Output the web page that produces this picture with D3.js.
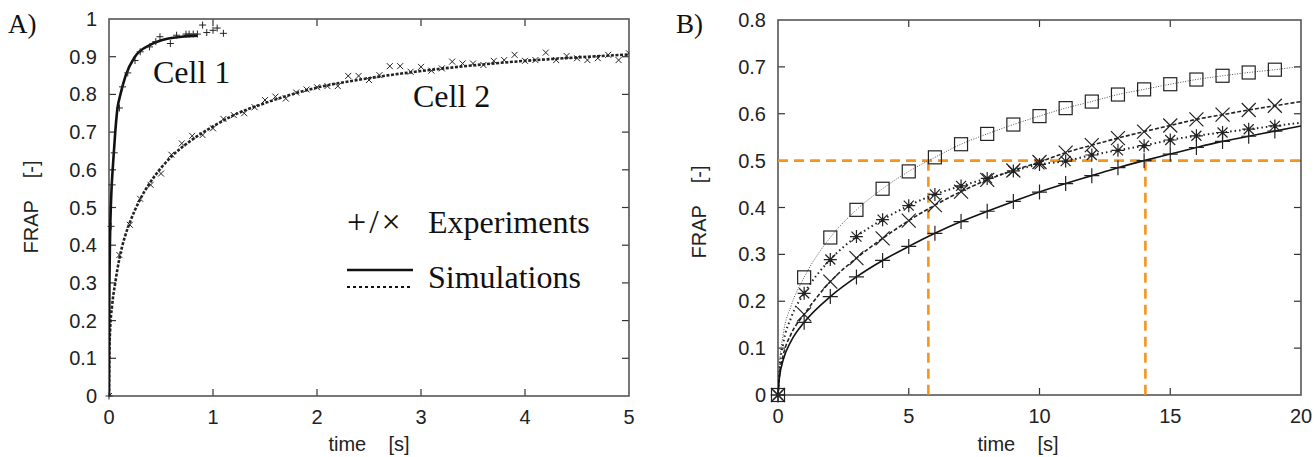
<!DOCTYPE html>
<html>
<head>
<meta charset="utf-8">
<script src="https://cdn.jsdelivr.net/npm/d3@7"></script>
<style>
  body { margin: 0; background: #fff; }
  svg { display: block; }
  .tick-label { font-family: "Liberation Sans", Arial, sans-serif; font-size: 20px; fill: #222; }
  .title { font-family: "Liberation Sans", Arial, sans-serif; font-size: 20px; fill: #222; white-space: pre; }
  .serif { font-family: "Liberation Serif", "Times New Roman", serif; fill: #111; }
</style>
</head>
<body>
<div id="chart"></div>
<script>

// ---- panel A: two cells, experiments and simulations ----
var cell1ExpT = [0, 0.02, 0.03, 0.05, 0.1, 0.13, 0.18, 0.25, 0.3, 0.39, 0.45, 0.49, 0.59, 0.65, 0.74, 0.77, 0.81, 0.85, 0.9, 0.94, 1.0, 1.04, 1.1]
var cell1ExpV = [0, 0.45, 0.56, 0.645, 0.764, 0.82, 0.857, 0.89, 0.913, 0.926, 0.94, 0.953, 0.935, 0.957, 0.96, 0.96, 0.96, 0.96, 0.984, 0.964, 0.97, 0.976, 0.962]

var cell1SimT = [0, 0.002, 0.005, 0.01, 0.02, 0.04, 0.06, 0.08, 0.11, 0.16, 0.25, 0.4, 0.55, 0.7, 0.85]
var cell1SimV = [0, 0.2, 0.32, 0.42, 0.52, 0.62, 0.7, 0.76, 0.8, 0.85, 0.9, 0.932, 0.947, 0.953, 0.956]

var cell2ExpT = [0, 0.1, 0.2, 0.3, 0.4, 0.5, 0.6, 0.7, 0.8, 0.9, 1.0, 1.1, 1.2, 1.3, 1.4, 1.5, 1.6, 1.7, 1.8, 1.9,
                 2.0, 2.1, 2.2, 2.3, 2.4, 2.5, 2.6, 2.7, 2.8, 2.9, 3.0, 3.1, 3.2, 3.3, 3.4, 3.5, 3.6, 3.7, 3.8, 3.9,
                 4.0, 4.1, 4.2, 4.3, 4.4, 4.5, 4.6, 4.7, 4.8, 4.9, 5.0]
var cell2ExpV = [0, 0.374, 0.454, 0.523, 0.56, 0.59, 0.64, 0.67, 0.69, 0.692, 0.71, 0.735, 0.745, 0.75, 0.766, 0.785, 0.794, 0.789, 0.805, 0.813,
                 0.819, 0.822, 0.822, 0.849, 0.849, 0.838, 0.851, 0.875, 0.875, 0.86, 0.873, 0.863, 0.869, 0.887, 0.882, 0.882, 0.878, 0.889, 0.891, 0.905,
                 0.889, 0.891, 0.911, 0.891, 0.902, 0.896, 0.891, 0.896, 0.905, 0.891, 0.909]

var cell2SimT = [0, 0.003, 0.01, 0.03, 0.06, 0.1, 0.15, 0.2, 0.3, 0.4, 0.5, 0.6, 0.8, 1.0, 1.2, 1.5, 2.0, 2.5, 3.0, 3.5, 4.0, 4.5, 5.0]
var cell2SimV = [0, 0.1, 0.17, 0.24, 0.3, 0.365, 0.42, 0.46, 0.522, 0.568, 0.605, 0.635, 0.68, 0.715, 0.745, 0.777, 0.818, 0.843, 0.862, 0.877, 0.889, 0.898, 0.906]

var ticksAX = [0, 1, 2, 3, 4, 5]
var ticksAY = [0, 0.1, 0.2, 0.3, 0.4, 0.5, 0.6, 0.7, 0.8, 0.9, 1]

// ---- panel B: four simulated curves, markers every second ----
var timeB = [0, 0.05, 0.2, 0.5, 1, 2, 3, 4, 5, 6, 7, 8, 9, 10, 11, 12, 13, 14, 15, 16, 17, 18, 19, 20]
var plusV   = [0, 0.035, 0.075, 0.115, 0.155, 0.21, 0.252, 0.287, 0.317, 0.345, 0.37, 0.392, 0.413, 0.433, 0.451, 0.468, 0.485, 0.5, 0.514, 0.528, 0.541, 0.552, 0.563, 0.574]
var crossV  = [0, 0.04, 0.085, 0.13, 0.172, 0.242, 0.292, 0.334, 0.372, 0.405, 0.434, 0.459, 0.479, 0.497, 0.517, 0.533, 0.548, 0.562, 0.575, 0.588, 0.598, 0.608, 0.617, 0.626]
var starV   = [0, 0.05, 0.11, 0.165, 0.217, 0.289, 0.338, 0.374, 0.404, 0.428, 0.446, 0.462, 0.478, 0.492, 0.499, 0.512, 0.522, 0.532, 0.544, 0.553, 0.56, 0.567, 0.574, 0.581]
var squareV = [0, 0.06, 0.13, 0.19, 0.251, 0.336, 0.395, 0.44, 0.477, 0.507, 0.535, 0.557, 0.577, 0.595, 0.612, 0.626, 0.641, 0.652, 0.663, 0.673, 0.681, 0.688, 0.694, 0.701]

var halfLevel = 0.5
var halfTimes = [5.75, 14.05]

var ticksBX = [0, 5, 10, 15, 20]
var ticksBY = [0, 0.1, 0.2, 0.3, 0.4, 0.5, 0.6, 0.7, 0.8]

var orange = '#f7941d'

var svg = d3.select('#chart').append('svg')
    .attr('width', 1314)
    .attr('height', 457)

function zip(ts, vs) {
    return ts.map(function(t, i) { return [t, vs[i]] })
}

function drawFrame(g, x, y, xt, yt, clipId) {
    var x0 = x.range()[0], x1 = x.range()[1]
    var y0 = y.range()[0], y1 = y.range()[1]
    var tl = 7

    g.append('clipPath').attr('id', clipId)
        .append('rect').attr('x', x0).attr('y', y1).attr('width', x1 - x0).attr('height', y0 - y1)

    // ticks, inward on all four sides
    var tk = g.append('g').attr('stroke', '#333').attr('stroke-width', 1.2)
    xt.forEach(function(d) {
        if (d === x.domain()[0] || d === x.domain()[1]) return
        tk.append('line').attr('x1', x(d)).attr('x2', x(d)).attr('y1', y0).attr('y2', y0 - tl)
        tk.append('line').attr('x1', x(d)).attr('x2', x(d)).attr('y1', y1).attr('y2', y1 + tl)
    })
    yt.forEach(function(d) {
        if (d === y.domain()[0] || d === y.domain()[1]) return
        tk.append('line').attr('x1', x0).attr('x2', x0 + tl).attr('y1', y(d)).attr('y2', y(d))
        tk.append('line').attr('x1', x1).attr('x2', x1 - tl).attr('y1', y(d)).attr('y2', y(d))
    })

    g.append('rect')
        .attr('x', x0).attr('y', y1).attr('width', x1 - x0).attr('height', y0 - y1)
        .attr('fill', 'none').attr('stroke', '#555').attr('stroke-width', 1.6)

    g.selectAll('.xl').data(xt).enter().append('text')
        .attr('class', 'tick-label')
        .attr('x', function(d) { return x(d) })
        .attr('y', y0 + 28)
        .attr('text-anchor', 'middle')
        .text(function(d) { return d })

    g.selectAll('.yl').data(yt).enter().append('text')
        .attr('class', 'tick-label')
        .attr('x', x0 - 12)
        .attr('y', function(d) { return y(d) + 7 })
        .attr('text-anchor', 'end')
        .text(function(d) { return +d.toFixed(1) })
}

function plusPath(x, y, pts, s) {
    return pts.map(function(p) {
        var cx = x(p[0]), cy = y(p[1])
        return 'M' + (cx - s) + ',' + cy + 'h' + (2 * s) + 'M' + cx + ',' + (cy - s) + 'v' + (2 * s)
    }).join('')
}

function crossPath(x, y, pts, s) {
    return pts.map(function(p) {
        var cx = x(p[0]), cy = y(p[1])
        return 'M' + (cx - s) + ',' + (cy - s) + 'l' + (2 * s) + ',' + (2 * s) +
               'M' + (cx - s) + ',' + (cy + s) + 'l' + (2 * s) + ',' + (-2 * s)
    }).join('')
}

// ================= panel A =================
var xA = d3.scaleLinear().domain([0, 5]).range([109, 629])
var yA = d3.scaleLinear().domain([0, 1]).range([396, 19])
var gA = svg.append('g')
drawFrame(gA, xA, yA, ticksAX, ticksAY, 'clipA')

var lineA = d3.line()
    .x(function(d) { return xA(d[0]) })
    .y(function(d) { return yA(d[1]) })
    .curve(d3.curveMonotoneX)

var plotA = gA.append('g').attr('clip-path', 'url(#clipA)')

plotA.append('path')
    .attr('d', lineA(zip(cell2SimT, cell2SimV)))
    .attr('fill', 'none').attr('stroke', '#222').attr('stroke-width', 2.6)
    .attr('stroke-dasharray', '3,1.6')

plotA.append('path')
    .attr('d', lineA(zip(cell1SimT, cell1SimV)))
    .attr('fill', 'none').attr('stroke', '#111').attr('stroke-width', 2.6)

plotA.append('path')
    .attr('d', crossPath(xA, yA, zip(cell2ExpT, cell2ExpV), 3))
    .attr('fill', 'none').attr('stroke', '#222').attr('stroke-width', 1)

gA.append('path')
    .attr('d', plusPath(xA, yA, zip(cell1ExpT, cell1ExpV), 3.5))
    .attr('fill', 'none').attr('stroke', '#222').attr('stroke-width', 1)

gA.append('text').attr('class', 'serif').attr('x', 153).attr('y', 83)
    .style('font-size', '32px').text('Cell 1')
gA.append('text').attr('class', 'serif').attr('x', 413).attr('y', 107)
    .style('font-size', '32px').text('Cell 2')

// legend
gA.append('text').attr('class', 'serif').attr('x', 347).attr('y', 233)
    .style('font-size', '34px').style('letter-spacing', '3px').style('font-weight', 300)
    .text('+/×')
gA.append('text').attr('class', 'serif').attr('x', 428).attr('y', 233)
    .style('font-size', '32px').text('Experiments')
gA.append('line').attr('x1', 347).attr('x2', 413).attr('y1', 270).attr('y2', 270)
    .attr('stroke', '#111').attr('stroke-width', 2.4)
gA.append('line').attr('x1', 347).attr('x2', 413).attr('y1', 287).attr('y2', 287)
    .attr('stroke', '#111').attr('stroke-width', 2).attr('stroke-dasharray', '3,3')
gA.append('text').attr('class', 'serif').attr('x', 428).attr('y', 288)
    .style('font-size', '32px').text('Simulations')

gA.append('text').attr('class', 'title')
    .attr('x', 369).attr('y', 451).attr('text-anchor', 'middle')
    .text('time    [s]')
gA.append('text').attr('class', 'title')
    .attr('transform', 'translate(38,207) rotate(-90)').attr('text-anchor', 'middle')
    .text('FRAP    [-]')
svg.append('text').attr('class', 'serif').attr('x', 8).attr('y', 33)
    .style('font-size', '27px').text('A)')

// ================= panel B =================
var xB = d3.scaleLinear().domain([0, 20]).range([778, 1301])
var yB = d3.scaleLinear().domain([0, 0.8]).range([395, 20])
var gB = svg.append('g')
drawFrame(gB, xB, yB, ticksBX, ticksBY, 'clipB')

var lineB = d3.line()
    .x(function(d) { return xB(d[0]) })
    .y(function(d) { return yB(d[1]) })
    .curve(d3.curveMonotoneX)

var plotB = gB.append('g').attr('clip-path', 'url(#clipB)')

// orange half-recovery guides
plotB.append('line')
    .attr('x1', xB(0)).attr('x2', xB(20)).attr('y1', yB(halfLevel)).attr('y2', yB(halfLevel))
    .attr('stroke', orange).attr('stroke-width', 2.6).attr('stroke-dasharray', '10,6')
halfTimes.forEach(function(t) {
    plotB.append('line')
        .attr('x1', xB(t)).attr('x2', xB(t)).attr('y1', yB(halfLevel)).attr('y2', yB(0))
        .attr('stroke', orange).attr('stroke-width', 2.6).attr('stroke-dasharray', '10,6')
})

var seriesB = [
    {v: squareV, stroke: '#555', width: 1, dash: '1,1.5', mark: 'square'},
    {v: starV, stroke: '#222', width: 2, dash: '1.5,3', mark: 'star'},
    {v: crossV, stroke: '#222', width: 1.6, dash: '4,2', mark: 'cross'},
    {v: plusV, stroke: '#111', width: 1.6, dash: null, mark: 'plus'}
]

seriesB.forEach(function(s) {
    var pts = zip(timeB, s.v)
    plotB.append('path')
        .attr('d', lineB(pts))
        .attr('fill', 'none').attr('stroke', s.stroke).attr('stroke-width', s.width)
        .attr('stroke-dasharray', s.dash)

    var marks = pts.filter(function(p) { return Number.isInteger(p[0]) && p[0] < 20 })
    var m = gB.append('g').attr('fill', 'none').attr('stroke', '#222').attr('stroke-width', 1.2)
    if (s.mark === 'square') {
        m.selectAll('rect').data(marks).enter().append('rect')
            .attr('x', function(d) { return xB(d[0]) - 6.5 })
            .attr('y', function(d) { return yB(d[1]) - 6.5 })
            .attr('width', 13).attr('height', 13)
    } else if (s.mark === 'star') {
        m.append('path').attr('d', plusPath(xB, yB, marks, 6.5) + crossPath(xB, yB, marks, 5))
    } else if (s.mark === 'cross') {
        m.append('path').attr('d', crossPath(xB, yB, marks, 7))
    } else {
        m.append('path').attr('d', plusPath(xB, yB, marks, 7.5))
    }
})

gB.append('text').attr('class', 'title')
    .attr('x', 1018).attr('y', 451).attr('text-anchor', 'middle')
    .text('time    [s]')
gB.append('text').attr('class', 'title')
    .attr('transform', 'translate(706,212) rotate(-90)').attr('text-anchor', 'middle')
    .text('FRAP    [-]')
svg.append('text').attr('class', 'serif').attr('x', 676).attr('y', 33)
    .style('font-size', '27px').text('B)')

</script>
</body>
</html>
